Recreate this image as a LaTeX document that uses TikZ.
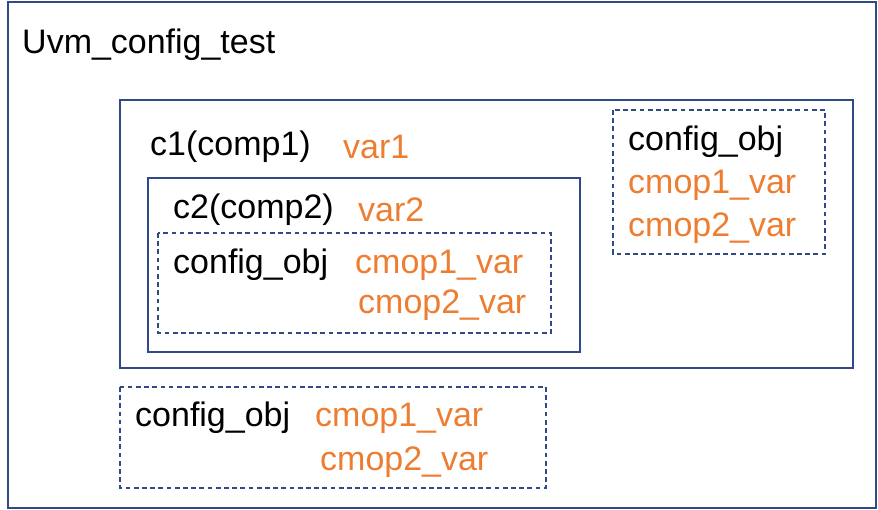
\documentclass[tikz,border=0pt]{standalone}
\usepackage{fontspec}
\setmainfont{Liberation Sans}
\definecolor{boxblue}{HTML}{2F4A85}
\definecolor{varorange}{HTML}{ED7D31}
\begin{document}
\begin{tikzpicture}[x=0.03cm,y=-0.03cm,
	solidbox/.style={draw=boxblue, line width=1.2pt},
	dashbox/.style={draw=boxblue, line width=1.2pt, dash pattern=on 4pt off 3pt},
	lbl/.style={anchor=west, inner sep=0pt, font=\fontsize{29}{34}\selectfont},
	var/.style={lbl, text=varorange}]

	\useasboundingbox (0,0) rectangle (878,510);

	\draw[solidbox] (8,2) rectangle (876,508);
	\node (top) [lbl] at (22,45) {Uvm\_config\_test};

	\draw[solidbox] (120,100) rectangle (853,368);
	\node (c1) [lbl] at (150,147) {c1(comp1)};
	\node (v1) [var] at (343,147) {var1};

	\draw[solidbox] (148,178) rectangle (580,352);
	\node (c2) [lbl] at (173,210) {c2(comp2)};
	\node (v2) [var] at (358,210) {var2};

	\draw[dashbox] (158,233) rectangle (551,333);
	\node (cfga) [lbl] at (173,265) {config\_obj};
	\node (cfga1) [var] at (355,265) {cmop1\_var};
	\node (cfga2) [var] at (358,305) {cmop2\_var};

	\draw[dashbox] (613,110) rectangle (825,254);
	\node (cfgb) [lbl] at (628,142) {config\_obj};
	\node (cfgb1) [var] at (628,185) {cmop1\_var};
	\node (cfgb2) [var] at (628,228) {cmop2\_var};

	\draw[dashbox] (120,387) rectangle (546,488);
	\node (cfgc) [lbl] at (135,418) {config\_obj};
	\node (cfgc1) [var] at (315,418) {cmop1\_var};
	\node (cfgc2) [var] at (320,462) {cmop2\_var};

\end{tikzpicture}
\end{document}
